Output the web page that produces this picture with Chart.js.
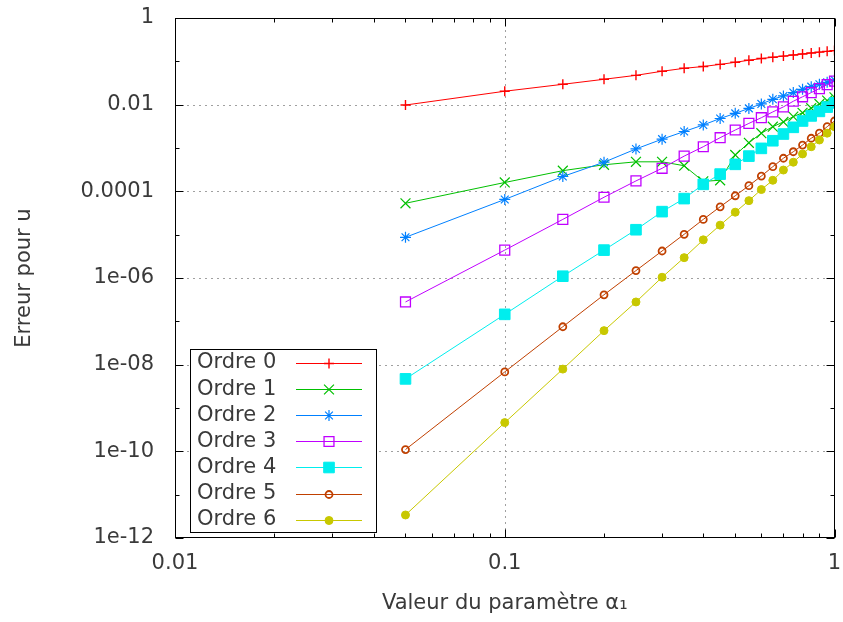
<!DOCTYPE html>
<html>
<head>
<meta charset="utf-8">
<script src="https://cdn.jsdelivr.net/npm/chart.js@4.4.0/dist/chart.umd.min.js"></script>
<style>
  html,body{margin:0;padding:0;background:#fff}
  #wrap{width:843px;height:622px}
</style>
</head>
<body>
<div id="wrap"><canvas id="c" width="843" height="622"></canvas></div>
<script>
// valeurs de alpha_1
const alphas = [0.05,0.10,0.15,0.20,0.25,0.30,0.35,0.40,0.45,0.50,0.55,0.60,0.65,0.70,0.75,0.80,0.85,0.90,0.95,1.00];

// erreur pour u, par ordre
const ordre0 = [0.0098,0.0204,0.0295,0.0385,0.0475,0.059,0.069,0.076,0.085,0.095,0.106,0.116,0.124,0.132,0.140,0.148,0.156,0.163,0.170,0.177];
const ordre1 = [5.3e-5,1.6e-4,3.0e-4,4.1e-4,4.8e-4,4.8e-4,3.9e-4,1.7e-4,1.8e-4,6.9e-4,1.32e-3,2.2e-3,3.1e-3,4.0e-3,5.3e-3,6.5e-3,8.3e-3,1.04e-2,1.24e-2,1.48e-2];
const ordre2 = [8.7e-6,6.5e-5,2.2e-4,4.7e-4,9.5e-4,1.6e-3,2.4e-3,3.4e-3,4.8e-3,6.3e-3,8.2e-3,1.04e-2,1.33e-2,1.59e-2,1.9e-2,2.26e-2,2.6e-2,2.95e-2,3.27e-2,3.7e-2];
const ordre3 = [2.8e-7,4.4e-6,2.25e-5,7.3e-5,1.74e-4,3.4e-4,6.5e-4,1.07e-3,1.73e-3,2.6e-3,3.7e-3,5.0e-3,6.8e-3,8.9e-3,1.2e-2,1.52e-2,1.9e-2,2.35e-2,2.9e-2,3.5e-2];
const ordre4 = [4.7e-9,1.45e-7,1.1e-6,4.4e-6,1.3e-5,3.4e-5,6.8e-5,1.45e-4,2.5e-4,4.2e-4,6.5e-4,9.8e-4,1.47e-3,2.1e-3,3.0e-3,4.2e-3,5.5e-3,7.0e-3,8.8e-3,1.1e-2];
const ordre5 = [1.1e-10,6.8e-9,7.5e-8,4.1e-7,1.48e-6,4.2e-6,1.02e-5,2.25e-5,4.4e-5,7.9e-5,1.35e-4,2.25e-4,3.7e-4,5.8e-4,8.2e-4,1.17e-3,1.68e-3,2.2e-3,3.1e-3,4.2e-3];
const ordre6 = [3.4e-12,4.6e-10,7.9e-9,6.1e-8,2.8e-7,1.04e-6,2.95e-6,7.6e-6,1.66e-5,3.3e-5,6.1e-5,1.1e-4,1.8e-4,3.1e-4,4.7e-4,7.3e-4,1.07e-3,1.53e-3,2.2e-3,3.1e-3];

const seriesNames = ['Ordre 0','Ordre 1','Ordre 2','Ordre 3','Ordre 4','Ordre 5','Ordre 6'];

const xTickValues = [0.01,0.1,1];
const xTickLabels = ['0.01','0.1','1'];
const yTickValues = [1e-12,1e-10,1e-8,1e-6,1e-4,1e-2,1];
const yTickLabels = ['1e-12','1e-10','1e-08','1e-06','0.0001','0.01','1'];

const FONT = '"DejaVu Sans", sans-serif';
const TXT = '#3a3a3a';

const styles = [
  {color:'#ff0000', pointStyle:'cross',    r:5,   fill:'rgba(0,0,0,0)', bw:1.4},
  {color:'#00c000', pointStyle:'crossRot', r:7,   fill:'rgba(0,0,0,0)', bw:1.2},
  {color:'#0080ff', pointStyle:'star',     r:5.5, fill:'rgba(0,0,0,0)', bw:1.2},
  {color:'#c000ff', pointStyle:'rect',     r:7,   fill:'rgba(0,0,0,0)', bw:1.3},
  {color:'#00eeee', pointStyle:'rect',     r:7.5, fill:'#00eeee',       bw:1},
  {color:'#c04000', pointStyle:'circle',   r:3.5, fill:'rgba(0,0,0,0)', bw:1.8},
  {color:'#c8c800', pointStyle:'circle',   r:4,   fill:'#c8c800',       bw:1}
];
const allSeries = [ordre0,ordre1,ordre2,ordre3,ordre4,ordre5,ordre6];

const datasets = allSeries.map((vals,i)=>({
  label: seriesNames[i],
  data: vals.map((v,k)=>({x:alphas[k], y:v})),
  borderColor: styles[i].color,
  backgroundColor: styles[i].color,
  borderWidth: 1,
  pointStyle: styles[i].pointStyle,
  pointRadius: styles[i].r,
  pointBackgroundColor: styles[i].fill,
  pointBorderColor: styles[i].color,
  pointBorderWidth: styles[i].bw,
  tension: 0,
  order: 6 - i
}));

// grille pointillée + cadre + graduations vers l'intérieur (façon gnuplot)
const frame = {
  id:'frame',
  beforeDatasetsDraw(chart){
    const {ctx, chartArea:a, scales:{x,y}} = chart;
    ctx.save();
    ctx.strokeStyle='#a0a0a0'; ctx.lineWidth=1; ctx.setLineDash([2,4]);
    xTickValues.forEach(v=>{
      const px=Math.round(x.getPixelForValue(v))+0.5;
      if(px<=a.left+1||px>=a.right-1) return;
      ctx.beginPath(); ctx.moveTo(px,a.top); ctx.lineTo(px,a.bottom); ctx.stroke();
    });
    yTickValues.forEach(v=>{
      const py=Math.round(y.getPixelForValue(v))+0.5;
      if(py<=a.top+1||py>=a.bottom-1) return;
      ctx.beginPath(); ctx.moveTo(a.left,py); ctx.lineTo(a.right,py); ctx.stroke();
    });
    ctx.restore();
  },
  afterDatasetsDraw(chart){
    const {ctx, chartArea:a, scales:{x,y}} = chart;
    const L=Math.round(a.left)+0.5, R=Math.round(a.right)-0.5, T=Math.round(a.top)+0.5, B=Math.round(a.bottom)-0.5;
    ctx.save();
    ctx.strokeStyle='#000'; ctx.lineWidth=1;
    ctx.strokeRect(L,T,R-L,B-T);
    const vt=(px,len)=>{ ctx.beginPath(); ctx.moveTo(px,B); ctx.lineTo(px,B-len); ctx.moveTo(px,T); ctx.lineTo(px,T+len); ctx.stroke(); };
    const ht=(py,len)=>{ ctx.beginPath(); ctx.moveTo(L,py); ctx.lineTo(L+len,py); ctx.moveTo(R,py); ctx.lineTo(R-len,py); ctx.stroke(); };
    xTickValues.forEach(v=>vt(Math.round(x.getPixelForValue(v))+0.5,8));
    for(let d=0.01; d<1; d*=10){
      for(let m=2;m<=9;m++) vt(Math.round(x.getPixelForValue(m*d))+0.5,4);
    }
    yTickValues.forEach(v=>ht(Math.round(y.getPixelForValue(v))+0.5,8));
    for(let e=-11;e<0;e+=2) ht(Math.round(y.getPixelForValue(Math.pow(10,e)))+0.5,4);
    ctx.restore();
  },
  afterDraw(chart){
    // légende encadrée, en bas à gauche du graphe
    const ctx=chart.ctx;
    ctx.save();
    const x0=190.5, y0=349.5, w=186, h=183;
    ctx.fillStyle='#fff'; ctx.fillRect(x0,y0,w,h);
    ctx.strokeStyle='#000'; ctx.lineWidth=1; ctx.strokeRect(x0,y0,w,h);
    ctx.font='21px '+FONT; ctx.textBaseline='middle'; ctx.textAlign='left';
    chart.data.datasets.forEach((ds,i)=>{
      const yy=363+i*26.1;
      ctx.fillStyle=TXT; ctx.fillText(ds.label,197,yy);
      const ly=Math.round(yy)+0.5;
      ctx.strokeStyle=ds.borderColor; ctx.lineWidth=1;
      ctx.beginPath(); ctx.moveTo(296,ly); ctx.lineTo(362,ly); ctx.stroke();
      ctx.fillStyle=ds.pointBackgroundColor; ctx.lineWidth=ds.pointBorderWidth;
      Chart.helpers.drawPoint(ctx,{pointStyle:ds.pointStyle, radius:ds.pointRadius, rotation:0, borderWidth:ds.pointBorderWidth},329,ly);
    });
    ctx.restore();
  }
};

Chart.defaults.font.family = FONT;
Chart.defaults.font.size = 21;
Chart.defaults.color = TXT;

new Chart(document.getElementById('c').getContext('2d'), {
  type:'line',
  data:{ datasets },
  options:{
    responsive:false, devicePixelRatio:1, animation:false, events:[],
    layout:{ padding:{top:18, right:6, left:0, bottom:0} },
    plugins:{ legend:{display:false}, tooltip:{enabled:false} },
    scales:{
      x:{
        type:'logarithmic', min:0.01, max:1,
        grid:{display:false, drawTicks:false}, border:{display:false},
        afterBuildTicks: s=>{ s.ticks = xTickValues.map(v=>({value:v})); },
        afterFit: s=>{ s.height = 84; s.paddingLeft = 0; s.paddingRight = 0; },
        ticks:{ padding:13, maxRotation:0, autoSkip:false, color:TXT,
          callback:(v,i)=>xTickLabels[i] },
        title:{ display:true, text:'Valeur du paramètre α₁', color:TXT, padding:{top:0,bottom:6}, font:{size:21} }
      },
      y:{
        type:'logarithmic', min:1e-12, max:1,
        grid:{display:false, drawTicks:false}, border:{display:false},
        afterBuildTicks: s=>{ s.ticks = yTickValues.map(v=>({value:v})); },
        afterFit: s=>{ s.width = 175; s.paddingTop = 0; s.paddingBottom = 0; },
        ticks:{ padding:21, autoSkip:false, color:TXT,
          callback:(v,i)=>yTickLabels[i] },
        title:{ display:true, text:'Erreur pour u', color:TXT, padding:{top:12,bottom:0}, font:{size:21} }
      }
    }
  },
  plugins:[frame]
});
</script>
</body>
</html>
